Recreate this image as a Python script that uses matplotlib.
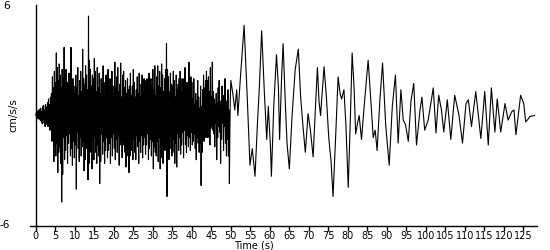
import numpy as np
import matplotlib
matplotlib.use("Agg")
import matplotlib.pyplot as plt

# ---- data -------------------------------------------------------------
# dense, strong-motion part: samples every 0.125 s from t = 0 to 50 s
dense_start = 0.0
dense_step = 0.125
dense_vals = [
    0.0, 0.15, -0.1, 0.2, -0.15, 0.3, -0.2, 0.1,
    0.35, -0.25, 0.4, -0.3, 0.2, -0.45, 0.5, -0.2,
    0.55, -0.4, 0.3, -0.6, 0.6, -0.35, 0.45, -0.5,
    0.7, -0.6, 0.9, -0.4, 0.6, -0.8, 1.0, -0.7,
    1.2, -1.4, 2.1, -0.9, 1.5, -2.5, 2.4, -1.6,
    1.8, -2.2, 3.4, -1.5, 2.6, -3.1, 1.9, -2.0,
    2.8, -1.7, 2.2, -2.6, 1.5, -4.7, 2.5, -3.2,
    2.0, -1.2, 3.7, -2.4, 1.6, -1.9, 2.5, -1.1,
    1.8, -2.6, 1.2, -1.5, 2.3, -1.0, 1.4, -2.2,
    3.7, -1.8, 1.0, -2.7, 2.0, -1.4, 1.6, -2.3,
    1.2, -1.6, 2.2, -4.0, 1.5, -0.9, 2.6, -1.8,
    1.1, -2.5, 1.9, -1.2, 2.4, -2.2, 1.3, -1.7,
    3.6, -1.4, 2.0, -3.0, 1.7, -2.4, 2.7, -1.3,
    2.2, -1.8, 1.4, -3.5, 5.4, -2.6, 3.0, -1.5,
    2.5, -2.0, 1.6, -2.9, 2.2, -1.4, 2.0, -2.4,
    3.1, -1.2, 2.4, -2.0, 1.3, -2.6, 2.6, -1.6,
    1.5, -2.2, 2.3, -3.7, 1.2, -2.5, 2.0, -1.0,
    1.7, -2.1, 2.7, -1.4, 1.0, -2.6, 1.8, -1.9,
    2.2, -1.2, 1.5, -2.3, 2.5, -1.9, 1.1, -1.5,
    2.0, -2.6, 1.4, -1.2, 2.4, -2.2, 1.6, -1.0,
    1.2, -1.8, 2.9, -2.4, 1.5, -1.3, 2.1, -2.0,
    2.6, -1.1, 1.3, -2.7, 1.7, -1.6, 2.85, -1.4,
    1.0, -2.3, 2.2, -1.6, 2.4, -1.0, 1.5, -2.0,
    1.9, -2.8, 1.2, -1.5, 2.0, -2.2, 1.4, -3.1,
    1.6, -2.2, 2.3, -1.2, 1.1, -1.9, 1.6, -2.4,
    2.5, -1.3, 1.8, -2.0, 1.0, -2.4, 1.4, -1.1,
    2.1, -1.7, 1.2, -2.6, 2.3, -1.4, 1.0, -2.0,
    1.7, -1.1, 2.2, -2.3, 1.3, -1.6, 2.0, -1.2,
    1.0, -2.1, 1.9, -1.6, 2.0, -1.0, 1.5, -2.4,
    2.3, -1.8, 1.2, -1.3, 2.0, -2.2, 1.6, -1.4,
    2.5, -2.9, 1.4, -1.7, 2.7, -2.0, 1.1, -2.2,
    2.1, -1.4, 2.7, -2.5, 1.6, -1.2, 2.4, -2.9,
    1.5, -2.3, 2.8, -1.6, 2.2, -2.6, 1.3, -1.9,
    2.0, -1.4, 2.5, -1.9, 3.9, -4.4, 2.5, -1.6,
    2.1, -2.4, 1.3, -1.8, 2.3, -1.1, 1.7, -2.2,
    1.6, -2.0, 2.4, -1.3, 1.9, -2.6, 1.0, -1.5,
    2.2, -2.8, 1.4, -1.0, 1.7, -1.9, 2.0, -1.2,
    2.4, -2.1, 1.3, -1.6, 2.0, -0.9, 1.5, -2.3,
    2.0, -0.8, 2.6, -1.6, 1.2, -2.0, 1.8, -1.1,
    1.4, -1.7, 2.9, -1.2, 1.5, -1.9, 2.1, -0.9,
    1.8, -1.6, 0.9, -1.4, 2.0, -1.0, 0.6, -1.8,
    1.2, -2.4, 0.8, -1.2, 1.9, -1.5, 1.0, -2.0,
    0.4, -1.5, 1.6, -3.8, 0.5, -2.0, 1.4, -0.8,
    2.2, -1.4, 1.5, -0.6, 1.9, -1.2, 2.4, -0.9,
    1.9, -1.2, 2.1, -0.4, 1.3, -1.6, 2.6, -0.7,
    1.0, -0.5, 2.9, -0.8, 1.3, -1.0, 0.9, -1.7,
    0.6, -0.4, 1.2, -2.4, 0.7, -1.2, 1.5, -0.6,
    1.9, -0.9, 0.5, -2.6, 0.8, -1.3, 1.6, -0.4,
    1.1, -1.9, 0.9, -0.6, 2.0, -1.5, 0.4, -2.2,
    0.8, -1.3, 1.4, -2.2, 0.3, -3.7, -0.8, 1.0,
    1.9,
]

# later part: turning points (time s, value cm/s/s)
late_t = [
    50.5, 51.0, 51.5, 51.8, 52.5, 53.4, 54.2, 54.9, 55.5, 56.2, 56.8, 57.3,
    57.9, 58.6, 59.2, 59.6, 60.2, 60.4, 61.0, 61.7, 62.2, 62.5, 63.0, 63.4,
    64.0, 64.4, 65.0, 65.7, 66.5, 67.3, 67.9, 68.5, 69.1, 69.8, 70.4, 71.1,
    71.7, 72.2, 72.6, 73.0, 73.9, 74.5, 75.1, 75.7, 76.2, 76.9, 77.5, 78.0,
    78.4, 79.0, 79.5, 80.1, 80.6, 81.1, 81.6, 82.0, 82.5, 82.9, 83.5, 84.3,
    85.2, 85.9, 86.5, 87.0, 87.5, 88.2, 88.9, 89.7, 90.6, 91.4, 92.2, 92.9,
    93.6, 94.2, 94.8, 95.5, 96.2, 96.9, 97.6, 98.5, 99.0, 99.7, 100.6, 101.9,
    102.6, 103.3, 104.0, 104.6, 105.5, 106.4, 107.4, 108.5, 109.4, 110.3,
    110.9, 111.7, 112.8, 114.1, 115.1, 116.0, 116.8, 117.7, 118.3, 119.2,
    120.3, 121.1, 122.0, 122.6, 123.1, 124.3, 125.1, 125.6, 126.2, 126.7,
    127.9,
]
late_v = [
    1.2, 0.3, 1.4, 0.0, 2.2, 4.9, 1.0, -2.7, -1.8, -3.3, -0.5, 1.5,
    4.6, 1.2, -1.3, 0.5, -1.9, -3.3, 0.5, 3.3, 1.5, -1.3, 2.0, 3.9,
    0.5, -1.5, -2.9, 0.0, 2.5, 3.6, 1.0, -0.6, -2.0, 0.1, -0.8, -2.25,
    0.5, 2.6, 0.8, 0.0, 2.65, 1.0, -1.2, -2.5, -4.4, -1.0, 2.1, 1.2,
    0.9, 1.4, -0.5, -3.9, -0.5, 3.4, 1.5, -1.0, -0.4, 0.0, -1.3, 0.8,
    3.0, 0.8, -1.2, -0.8, -1.9, 0.8, 2.85, -0.5, -2.7, 0.5, 2.2, -1.5,
    1.4, -0.25, -0.5, -1.4, 0.8, 1.75, -1.6, 0.3, 1.0, -0.8, -0.25, 1.5,
    -0.95, 1.1, 0.3, -0.9, 0.85, -1.3, 1.1, 0.0, -1.5, 0.65,
    0.85, -0.6, 1.3, -1.25, 1.3, -1.6, 1.5, -0.9, 0.9, -0.9,
    0.65, -0.25, 0.2, 0.3, -1.05, 1.1, 0.65, -0.35, -0.2, -0.05,
    0.0,
]

x_ticks = list(range(0, 130, 5))
y_tick_labels = ["6", "-6"]

# ---- figure -----------------------------------------------------------
fam = ["Liberation Sans Narrow", "DejaVu Sans"]
plt.rcParams["font.family"] = fam

fig = plt.figure(figsize=(5.5, 2.5), dpi=100)
ax = fig.add_axes([30 / 550, 24 / 250, 507 / 550, 221 / 250])

t_dense = dense_start + dense_step * np.arange(len(dense_vals))
t = np.concatenate([t_dense, np.array(late_t)])
v = np.concatenate([np.array(dense_vals), np.array(late_v)])
ax.plot(t, v, color="black", lw=0.8)

ax.set_xlim(-1.5, 128.5)
ax.set_ylim(-6, 6)
ax.spines["left"].set_position(("data", 0))
ax.spines["right"].set_visible(False)
ax.spines["top"].set_visible(False)
for s in ("left", "bottom"):
    ax.spines[s].set_linewidth(1.0)
    ax.spines[s].set_color("black")

ax.set_xticks(x_ticks)
ax.set_xticklabels([str(x) for x in x_ticks])
ax.tick_params(axis="x", direction="out", length=3.5, width=1, pad=0,
               labelsize=7, colors="black")
ax.set_yticks([])

fig.text(9.5 / 550, 1 - 6 / 250, y_tick_labels[0], ha="right", va="center",
         fontsize=7.5)
fig.text(9.5 / 550, 1 - 225 / 250, y_tick_labels[1], ha="right", va="center",
         fontsize=7.5)
fig.text(254 / 550, 0.0, "Time (s)", ha="center", va="bottom",
         fontsize=7)
fig.text(13 / 550, 1 - 115 / 250, "cm/s/s", ha="center", va="center",
         rotation=90, fontsize=7.5)

fig.savefig("out.png", dpi=100)
